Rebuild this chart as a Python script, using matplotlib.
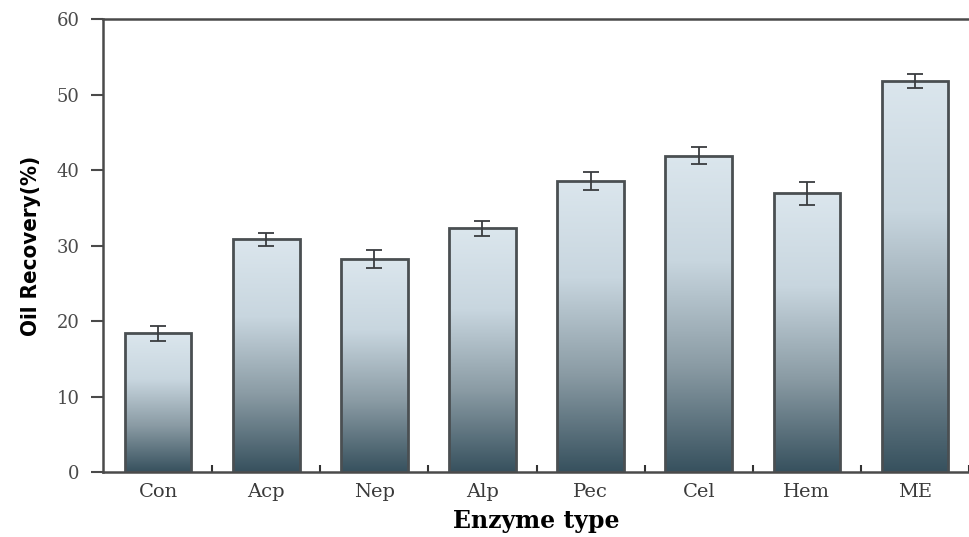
import numpy as np
import matplotlib.pyplot as plt
from matplotlib.colors import LinearSegmentedColormap

# enzyme types and oil recovery (%)
enzymes = ['Con', 'Acp', 'Nep', 'Alp', 'Pec', 'Cel', 'Hem', 'ME']
recovery = [18.4, 30.8, 28.2, 32.3, 38.6, 41.9, 36.9, 51.8]
err = [1.0, 0.9, 1.2, 1.0, 1.2, 1.1, 1.5, 0.9]

serif = ['DejaVu Serif', 'Liberation Serif']
plt.rcParams['font.family'] = serif

fig = plt.figure(figsize=(9.69, 5.37), dpi=100)
ax = fig.add_axes([0.1063, 0.121, 0.8937, 0.8436])

x = np.arange(len(enzymes))
w = 0.615
cmap = LinearSegmentedColormap.from_list('g', ['#37515e', '#8a9ba4', '#c8d6df', '#dbe6ed'])

bars = ax.bar(x, recovery, width=w, color='none', edgecolor='#4a4f52', linewidth=2, zorder=3)
grad = np.linspace(0, 1, 256).reshape(-1, 1)
for b, v in zip(bars, recovery):
    x0 = b.get_x()
    im = ax.imshow(grad, cmap=cmap, origin='lower', aspect='auto',
                   extent=[x0, x0 + w, 0, v], zorder=2)
    im.set_clip_path(b)

ax.errorbar(x, recovery, yerr=err, fmt='none', ecolor='#3a3d40',
            elinewidth=1.3, capsize=6, capthick=1.3, zorder=4)

ax.set_xlim(-0.51, 7.43)
ax.set_ylim(0, 60)
ax.set_yticks(range(0, 61, 10))
ax.tick_params(axis='y', direction='out', length=9, width=1.5, color='#4a4a4a',
               labelsize=13, labelcolor='#4a4a4a', pad=8)

ax.set_xticks(x + 0.5)
ax.set_xticklabels([])
ax.set_xticks(x, minor=True)
ax.set_xticklabels(enzymes, minor=True)
ax.tick_params(axis='x', which='major', direction='in', length=5, width=1.5, color='#333333')
ax.tick_params(axis='x', which='minor', length=0, labelsize=14, labelcolor='#3a3a3a', pad=8)

for s in ['left', 'bottom', 'top']:
    ax.spines[s].set_linewidth(1.8)
    ax.spines[s].set_color('#4a4a4a')
ax.spines['right'].set_visible(False)

ax.set_xlabel('Enzyme type', fontsize=17, fontweight='bold', labelpad=6)
ax.set_ylabel('Oil Recovery(%)', fontsize=16, fontweight='bold',
              family=['DejaVu Sans'], fontstretch='condensed')
ax.yaxis.set_label_coords(-0.072, 0.5)

fig.savefig('out.png', dpi=100)
